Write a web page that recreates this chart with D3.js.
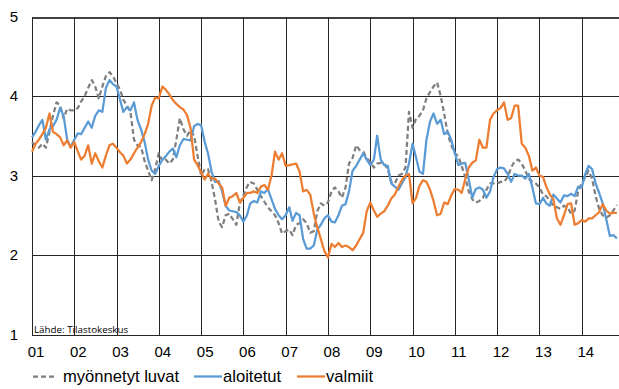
<!DOCTYPE html>
<html>
<head>
<meta charset="utf-8">
<script src="https://cdn.jsdelivr.net/npm/d3@7"></script>
<style>
  body { margin: 0; background: #fff; }
  svg { display: block; font-family: "Liberation Sans", Arial, sans-serif; }
  .grid line { stroke: #262626; stroke-width: 1; shape-rendering: crispEdges; }
  .series { fill: none; stroke-width: 2.25; stroke-linejoin: round; }
</style>
</head>
<body>
<svg id="chart" width="619" height="389"></svg>
<script>
// monthly series, Jan 2001 .. Nov 2014
const startMonth = new Date(2001, 0, 1);
const yTicks = [1, 2, 3, 4, 5];

const luvat = [
  3.42, 3.38, 3.35, 3.4, 3.35, 3.55, 3.75, 3.92, 3.88, 3.72, 3.84, 3.82,
  3.82, 3.85, 3.93, 4.0, 4.1, 4.2, 4.12, 3.97, 4.12, 4.25, 4.3, 4.25,
  4.16, 4.08, 3.95, 3.88, 3.8, 3.45, 3.38, 3.36, 3.18, 3.06, 2.94, 3.08,
  3.28, 3.18, 3.2, 3.15, 3.2, 3.45, 3.72, 3.58, 3.5, 3.57, 3.5, 3.25,
  3.0, 3.08, 3.08, 2.92, 2.7, 2.42, 2.35, 2.5, 2.52, 2.45, 2.38, 2.65,
  2.75, 2.86, 2.92, 2.9, 2.82, 2.74, 2.67, 2.6, 2.55, 2.5, 2.4, 2.27,
  2.3, 2.32, 2.25, 2.38, 2.4, 2.45, 2.4, 2.28, 2.3, 2.55, 2.65, 2.62,
  2.66, 2.8, 2.85, 2.8, 2.72, 2.85, 3.15, 3.22, 3.38, 3.32, 3.3, 3.22,
  3.17, 3.1, 3.15, 3.16, 3.15, 3.08, 2.92, 2.9, 3.0, 3.02, 3.1, 3.8,
  3.6, 3.72, 3.75, 3.82, 3.97, 4.05, 4.12, 4.17, 4.0, 3.78, 3.52, 3.38,
  3.28, 3.24, 3.12, 2.98, 2.8, 2.7, 2.66, 2.68, 2.72, 2.82, 2.9, 2.9,
  2.9, 2.92, 2.92, 2.98, 3.1, 3.18, 3.2, 3.15, 3.06, 2.96, 2.92, 2.9,
  2.85, 2.76, 2.74, 2.68, 2.62, 2.6, 2.58, 2.62, 2.6, 2.52, 2.56, 2.8,
  2.9, 2.98, 3.06, 2.96, 2.74, 2.58, 2.5, 2.47, 2.5, 2.56, 2.63
];

const aloitetut = [
  3.48, 3.55, 3.63, 3.7, 3.45, 3.58, 3.62, 3.7, 3.85, 3.75, 3.45, 3.36,
  3.45, 3.53, 3.52, 3.6, 3.68, 3.6, 3.75, 3.82, 3.8, 4.1, 4.2, 4.15,
  4.12, 3.95, 3.8, 3.86, 3.82, 3.92, 3.7, 3.58, 3.42, 3.2, 3.06, 3.02,
  3.12, 3.2, 3.24, 3.3, 3.34, 3.23, 3.38, 3.46, 3.45, 3.44, 3.62, 3.65,
  3.63, 3.42, 3.28, 3.05, 2.92, 2.93, 2.8, 2.62, 2.56, 2.55, 2.54, 2.5,
  2.42, 2.5, 2.65, 2.68, 2.66, 2.8, 2.78, 2.83, 2.7, 2.58, 2.5, 2.45,
  2.5, 2.6, 2.43, 2.53, 2.5, 2.2, 2.08, 2.08, 2.12, 2.32, 2.38, 2.46,
  2.5, 2.42, 2.41, 2.5, 2.62, 2.64, 2.8, 3.06, 3.12, 3.2, 3.28, 3.2,
  3.13, 3.2, 3.5, 3.2, 3.13, 3.12, 2.9, 2.86, 2.82, 2.9, 2.98, 3.15,
  3.4, 3.22, 3.05, 3.02, 3.45, 3.68, 3.78, 3.65, 3.7, 3.52, 3.55, 3.45,
  3.28, 3.13, 3.15, 3.16, 2.95, 2.72, 2.83, 2.85, 2.82, 2.72, 2.8, 2.98,
  3.08, 3.1, 3.09, 3.02, 2.92, 3.02, 3.0, 3.0, 2.96, 3.02, 2.85, 2.65,
  2.64, 2.72, 2.65, 2.62, 2.76, 2.71, 2.66, 2.75, 2.74, 2.77, 2.74, 2.86,
  2.85, 3.02, 3.12, 3.08, 2.9, 2.78, 2.65, 2.45, 2.24, 2.25, 2.21
];

const valmiit = [
  3.3, 3.4, 3.45, 3.52, 3.6, 3.78, 3.55, 3.52, 3.48, 3.38, 3.44, 3.35,
  3.42, 3.3, 3.2, 3.25, 3.38, 3.15, 3.28, 3.18, 3.1, 3.25, 3.38, 3.4,
  3.35, 3.29, 3.25, 3.15, 3.2, 3.28, 3.35, 3.42, 3.52, 3.65, 3.88, 3.98,
  3.97, 4.12, 4.08, 4.02, 3.95, 3.9, 3.86, 3.83, 3.76, 3.6, 3.2, 3.13,
  3.04, 2.95, 3.02, 2.96, 2.96, 2.9, 2.85, 2.62, 2.72, 2.74, 2.78, 2.66,
  2.72, 2.78, 2.78, 2.8, 2.78, 2.86, 2.88, 2.82, 3.0, 3.3, 3.2, 3.28,
  3.12, 3.13, 3.14, 3.15, 3.05, 2.8, 2.82, 2.76, 2.52, 2.35, 2.2, 2.05,
  1.97, 2.14, 2.1, 2.15, 2.1, 2.12, 2.1, 2.06, 2.12, 2.2, 2.28, 2.55,
  2.66, 2.56, 2.48, 2.52, 2.55, 2.62, 2.71, 2.76, 2.86, 2.94, 3.0, 3.02,
  2.65, 2.72, 2.87, 2.94, 2.92, 2.82, 2.68, 2.5, 2.52, 2.66, 2.64, 2.75,
  2.83, 2.82, 2.78, 2.95, 3.1, 3.16, 3.19, 3.45, 3.35, 3.35, 3.7, 3.78,
  3.82, 3.85, 3.92, 3.7, 3.72, 3.88, 3.88, 3.4, 3.35, 3.25, 3.06, 3.1,
  3.0, 2.98, 2.86, 2.76, 2.7, 2.46, 2.38, 2.5, 2.64, 2.65, 2.38, 2.4,
  2.44, 2.42, 2.46, 2.46, 2.5, 2.54, 2.64, 2.56, 2.52, 2.53, 2.53
];

const seriesNames = ["myönnetyt luvat", "aloitetut", "valmiit"];
const seriesColors = ["#7f7f7f", "#5b9bd5", "#ed7d31"];
const seriesDash = ["5,3", null, null];
const source = "Lähde: Tilastokeskus";

const margin = {top: 16.5, left: 32, right: 0, bottom: 54.5};
const width = 619, height = 389;

const svg = d3.select("#chart");

const x = d3.scaleTime()
    .domain([startMonth, new Date(2014, 10, 19)])
    .range([margin.left, width - margin.right]);
const y = d3.scaleLinear()
    .domain([1, 5])
    .range([height - margin.bottom, margin.top]);

const years = d3.timeYear.range(startMonth, new Date(2015, 0, 1));

// grid
const grid = svg.append("g").attr("class", "grid");
grid.selectAll("line.h").data(yTicks).join("line")
    .attr("class", "h")
    .attr("x1", margin.left).attr("x2", width)
    .attr("y1", d => Math.round(y(d)) + 0.5).attr("y2", d => Math.round(y(d)) + 0.5)
    .style("stroke-width", d => d === 5 ? 2 : 1)
    .style("stroke", d => d === 5 ? "#404040" : null);
grid.selectAll("line.v").data(years).join("line")
    .attr("class", "v")
    .attr("x1", d => Math.round(x(d)) + 0.5).attr("x2", d => Math.round(x(d)) + 0.5)
    .attr("y1", y(5)).attr("y2", y(1));

// source note
svg.append("text")
    .attr("x", 34).attr("y", 332.5)
    .style("font-family", "'Open Sans', sans-serif")
    .style("font-size", "9.8px")
    .attr("fill", "#000")
    .text(source);

// axes (labels only)
const yAxis = svg.append("g")
    .attr("transform", `translate(${margin.left},0)`)
    .call(d3.axisLeft(y).tickValues(yTicks).tickFormat(d3.format("d")).tickSize(0).tickPadding(14));
yAxis.select(".domain").remove();
yAxis.selectAll("text").style("font-size", "15px").style("font-family", "'Liberation Sans', Arial, sans-serif").attr("fill", "#000");

const xAxis = svg.append("g")
    .attr("transform", `translate(0,${y(1)})`)
    .call(d3.axisBottom(x).tickValues(years).tickFormat(d3.timeFormat("%y")).tickSize(0).tickPadding(12));
xAxis.select(".domain").remove();
xAxis.selectAll("text").attr("dx", 3.5).style("font-size", "15px").style("font-family", "'Liberation Sans', Arial, sans-serif").attr("fill", "#000");

// lines
const allSeries = [luvat, aloitetut, valmiit];
const line = d3.line()
    .x((d, i) => x(d3.timeMonth.offset(startMonth, i)))
    .y(d => y(d));

svg.append("g").selectAll("path").data(allSeries).join("path")
    .attr("class", "series")
    .attr("d", line)
    .attr("stroke", (d, i) => seriesColors[i])
    .attr("stroke-dasharray", (d, i) => seriesDash[i]);

// legend
const legendX = [33, 194, 297];
const legend = svg.append("g").selectAll("g").data(seriesNames).join("g")
    .attr("transform", (d, i) => `translate(${legendX[i]},376.5)`);
legend.append("line")
    .attr("x1", 0).attr("x2", (d, i) => i === 0 ? 24 : 28)
    .attr("stroke", (d, i) => seriesColors[i])
    .attr("stroke-width", 2.25)
    .attr("stroke-dasharray", (d, i) => seriesDash[i]);
legend.append("text")
    .attr("x", (d, i) => i === 0 ? 30 : 29)
    .attr("y", 5.5)
    .style("font-size", "16.6px")
    .attr("fill", "#000")
    .text(d => d);
</script>
</body>
</html>
